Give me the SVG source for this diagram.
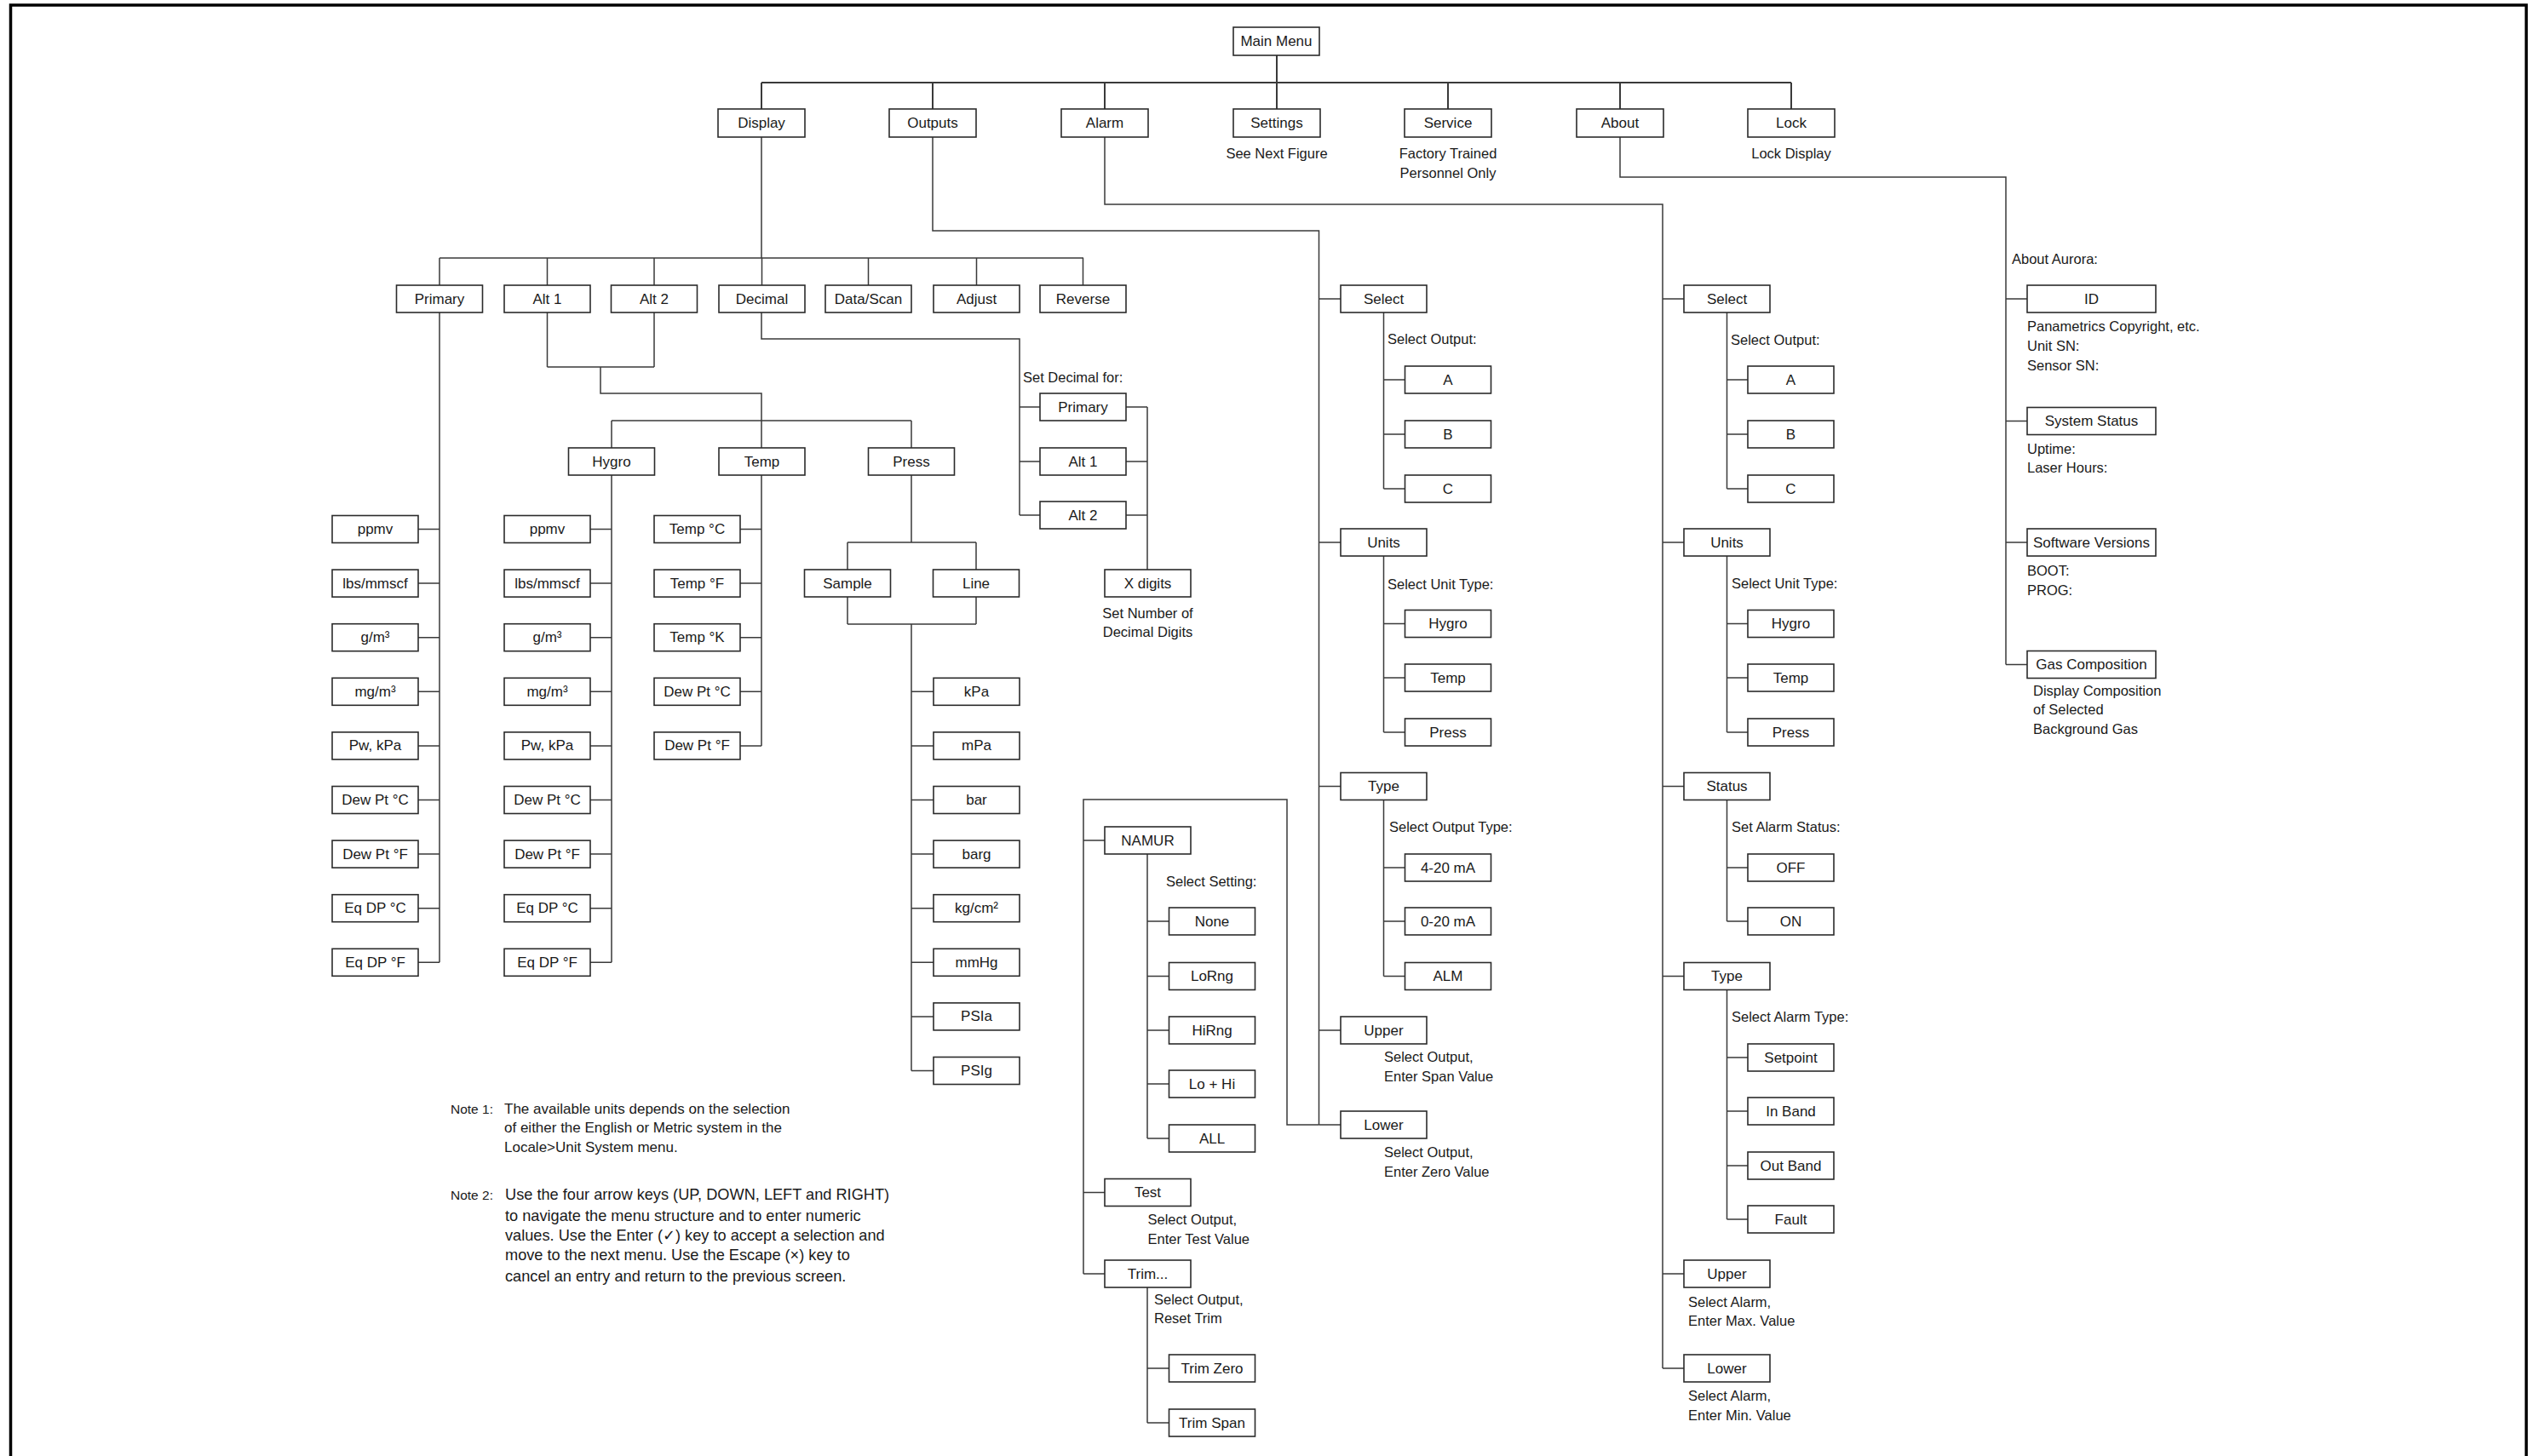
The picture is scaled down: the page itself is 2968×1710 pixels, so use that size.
<svg xmlns="http://www.w3.org/2000/svg" width="2968" height="1710" viewBox="0 0 2968 1710">
<style>
.n rect{fill:#fff;stroke:#2b2b2b;stroke-width:1.6}
text{font-family:"Liberation Sans",Arial,sans-serif;font-size:17px;fill:#1a1a1a}
.n text{text-anchor:middle;dominant-baseline:central}
.cap{font-size:16.5px;dominant-baseline:central}
.mid{text-anchor:middle}
.note{font-size:17px;dominant-baseline:central}
.notel{font-size:15.5px;dominant-baseline:central}
.note2{font-size:18.2px;dominant-baseline:central}
#connectors path{fill:none;stroke:#3a3a3a;stroke-width:1.5}
#frame{fill:none;stroke:#000;stroke-width:3.5}
</style>
<rect width="2968" height="1710" fill="#fff"/>
<path id="frame" d="M12.5,1710V6H2966V1710"/>

<g id="connectors">
<path d="M1499,65V97M894,97H2103M894,97V128M1095,97V128M1297,97V128M1499,97V128M1700,97V128M1902,97V128M2103,97V128" style="stroke-width:2"/>
<path d="M894,161V303M516,303H1272M516,303V335M642.5,303V335M768,303V335M894.5,303V335M1019.5,303V335M1146.5,303V335M1271.5,303V335"/>
<path d="M642.5,367V431M768,367V431M642.5,431H768M705,431V462H894V526M718,494H1070M718,494V526M1070,494V526"/>
<path d="M516,367V1130.3M491,621.5H516M491,685.1H516M491,748.7H516M491,812.3H516M491,875.9H516M491,939.5H516M491,1003.1H516M491,1066.7H516M491,1130.3H516"/>
<path d="M718,558V1130.3M693,621.5H718M693,685.1H718M693,748.7H718M693,812.3H718M693,875.9H718M693,939.5H718M693,1003.1H718M693,1066.7H718M693,1130.3H718"/>
<path d="M894,558V875.9M869,621.5H894M869,685.1H894M869,748.7H894M869,812.3H894M869,875.9H894"/>
<path d="M1070,558V637M995,637H1146M995,637V669M1146,637V669M995,701V733M1146,701V733M995,733H1146M1070,733V1257.5M1070,812.3H1096M1070,875.9H1096M1070,939.5H1096M1070,1003.1H1096M1070,1066.7H1096M1070,1130.3H1096M1070,1193.9H1096M1070,1257.5H1096"/>
<path d="M894,367V398H1197V605M1197,478H1221M1197,542H1221M1197,605H1221M1322,478H1347M1322,542H1347M1322,605H1347M1347,478V669"/>
<path d="M1095,161V271H1548.5V1321M1548.5,351H1574M1548.5,637H1574M1548.5,923.5H1574M1548.5,1210H1574M1548.5,1321H1574"/>
<path d="M1624.5,367V574M1624.5,446H1649.5M1624.5,510H1649.5M1624.5,574H1649.5"/>
<path d="M1624.5,653V860M1624.5,732.5H1649.5M1624.5,796H1649.5M1624.5,860H1649.5"/>
<path d="M1624.5,939V1146.5M1624.5,1019H1649.5M1624.5,1082H1649.5M1624.5,1146.5H1649.5"/>
<path d="M1548.5,1321H1511V939H1272V1496M1272,987H1297M1272,1400.5H1297M1272,1496H1297"/>
<path d="M1347,1003V1337M1347,1082H1372.5M1347,1146.5H1372.5M1347,1210H1372.5M1347,1273H1372.5M1347,1337H1372.5"/>
<path d="M1347,1512V1671M1347,1607H1372.5M1347,1671H1372.5"/>
<path d="M1297,161V240H1952V1607M1952,351H1977M1952,637H1977M1952,923.5H1977M1952,1146.5H1977M1952,1496H1977M1952,1607H1977"/>
<path d="M2027.5,367V574M2027.5,446H2052M2027.5,510H2052M2027.5,574H2052"/>
<path d="M2027.5,653V860M2027.5,732.5H2052M2027.5,796H2052M2027.5,860H2052"/>
<path d="M2027.5,939V1082M2027.5,1019H2052M2027.5,1082H2052"/>
<path d="M2027.5,1162V1432M2027.5,1242H2052M2027.5,1305H2052M2027.5,1369H2052M2027.5,1432H2052"/>
<path d="M1902,161V208H2355V780.5M2355,351H2380M2355,494.5H2380M2355,637H2380M2355,780.5H2380"/>
</g>

<g id="main-menu" class="n"><rect x="1448" y="32" width="101" height="33"/><text x="1498.5" y="48.5">Main Menu</text></g>
<g id="display" class="n"><rect x="843" y="128" width="102" height="33"/><text x="894" y="144.5">Display</text></g>
<g id="outputs" class="n"><rect x="1044" y="128" width="102" height="33"/><text x="1095" y="144.5">Outputs</text></g>
<g id="alarm" class="n"><rect x="1246" y="128" width="102" height="33"/><text x="1297" y="144.5">Alarm</text></g>
<g id="settings" class="n"><rect x="1448" y="128" width="102" height="33"/><text x="1499" y="144.5">Settings</text></g>
<g id="service" class="n"><rect x="1649" y="128" width="102" height="33"/><text x="1700" y="144.5">Service</text></g>
<g id="about" class="n"><rect x="1851" y="128" width="102" height="33"/><text x="1902" y="144.5">About</text></g>
<g id="lock" class="n"><rect x="2052" y="128" width="102" height="33"/><text x="2103" y="144.5">Lock</text></g>
<g id="top-captions">
<text class="cap mid" x="1499" y="180">See Next Figure</text>
<text class="cap mid" x="1700" y="180">Factory Trained</text>
<text class="cap mid" x="1700" y="203">Personnel Only</text>
<text class="cap mid" x="2103" y="180">Lock Display</text>
</g>

<g id="d-primary" class="n"><rect x="465.5" y="335" width="101" height="32"/><text x="516" y="351">Primary</text></g>
<g id="d-alt1" class="n"><rect x="592" y="335" width="101" height="32"/><text x="642.5" y="351">Alt 1</text></g>
<g id="d-alt2" class="n"><rect x="717.5" y="335" width="101" height="32"/><text x="768" y="351">Alt 2</text></g>
<g id="d-decimal" class="n"><rect x="844" y="335" width="101" height="32"/><text x="894.5" y="351">Decimal</text></g>
<g id="d-datascan" class="n"><rect x="969" y="335" width="101" height="32"/><text x="1019.5" y="351">Data/Scan</text></g>
<g id="d-adjust" class="n"><rect x="1096" y="335" width="101" height="32"/><text x="1146.5" y="351">Adjust</text></g>
<g id="d-reverse" class="n"><rect x="1221" y="335" width="101" height="32"/><text x="1271.5" y="351">Reverse</text></g>

<g id="a-hygro" class="n"><rect x="667.5" y="526" width="101" height="32"/><text x="718" y="542">Hygro</text></g>
<g id="a-temp" class="n"><rect x="844" y="526" width="101" height="32"/><text x="894.5" y="542">Temp</text></g>
<g id="a-press" class="n"><rect x="1019.5" y="526" width="101" height="32"/><text x="1070" y="542">Press</text></g>
<g id="p-sample" class="n"><rect x="944.5" y="669" width="101" height="32"/><text x="995" y="685">Sample</text></g>
<g id="p-line" class="n"><rect x="1095.5" y="669" width="101" height="32"/><text x="1146" y="685">Line</text></g>

<g id="pr-ppmv" class="n"><rect x="390" y="605.5" width="101" height="32"/><text x="440.5" y="621.5">ppmv</text></g>
<g id="pr-lbs" class="n"><rect x="390" y="669.1" width="101" height="32"/><text x="440.5" y="685.1">lbs/mmscf</text></g>
<g id="pr-gm3" class="n"><rect x="390" y="732.7" width="101" height="32"/><text x="440.5" y="748.7">g/m³</text></g>
<g id="pr-mgm3" class="n"><rect x="390" y="796.3" width="101" height="32"/><text x="440.5" y="812.3">mg/m³</text></g>
<g id="pr-pw" class="n"><rect x="390" y="859.9" width="101" height="32"/><text x="440.5" y="875.9">Pw, kPa</text></g>
<g id="pr-dpc" class="n"><rect x="390" y="923.5" width="101" height="32"/><text x="440.5" y="939.5">Dew Pt °C</text></g>
<g id="pr-dpf" class="n"><rect x="390" y="987.1" width="101" height="32"/><text x="440.5" y="1003.1">Dew Pt °F</text></g>
<g id="pr-eqc" class="n"><rect x="390" y="1050.7" width="101" height="32"/><text x="440.5" y="1066.7">Eq DP °C</text></g>
<g id="pr-eqf" class="n"><rect x="390" y="1114.3" width="101" height="32"/><text x="440.5" y="1130.3">Eq DP °F</text></g>

<g id="hy-ppmv" class="n"><rect x="592" y="605.5" width="101" height="32"/><text x="642.5" y="621.5">ppmv</text></g>
<g id="hy-lbs" class="n"><rect x="592" y="669.1" width="101" height="32"/><text x="642.5" y="685.1">lbs/mmscf</text></g>
<g id="hy-gm3" class="n"><rect x="592" y="732.7" width="101" height="32"/><text x="642.5" y="748.7">g/m³</text></g>
<g id="hy-mgm3" class="n"><rect x="592" y="796.3" width="101" height="32"/><text x="642.5" y="812.3">mg/m³</text></g>
<g id="hy-pw" class="n"><rect x="592" y="859.9" width="101" height="32"/><text x="642.5" y="875.9">Pw, kPa</text></g>
<g id="hy-dpc" class="n"><rect x="592" y="923.5" width="101" height="32"/><text x="642.5" y="939.5">Dew Pt °C</text></g>
<g id="hy-dpf" class="n"><rect x="592" y="987.1" width="101" height="32"/><text x="642.5" y="1003.1">Dew Pt °F</text></g>
<g id="hy-eqc" class="n"><rect x="592" y="1050.7" width="101" height="32"/><text x="642.5" y="1066.7">Eq DP °C</text></g>
<g id="hy-eqf" class="n"><rect x="592" y="1114.3" width="101" height="32"/><text x="642.5" y="1130.3">Eq DP °F</text></g>

<g id="te-c" class="n"><rect x="768" y="605.5" width="101" height="32"/><text x="818.5" y="621.5">Temp °C</text></g>
<g id="te-f" class="n"><rect x="768" y="669.1" width="101" height="32"/><text x="818.5" y="685.1">Temp °F</text></g>
<g id="te-k" class="n"><rect x="768" y="732.7" width="101" height="32"/><text x="818.5" y="748.7">Temp °K</text></g>
<g id="te-dpc" class="n"><rect x="768" y="796.3" width="101" height="32"/><text x="818.5" y="812.3">Dew Pt °C</text></g>
<g id="te-dpf" class="n"><rect x="768" y="859.9" width="101" height="32"/><text x="818.5" y="875.9">Dew Pt °F</text></g>

<g id="ps-kpa" class="n"><rect x="1096" y="796.3" width="101" height="32"/><text x="1146.5" y="812.3">kPa</text></g>
<g id="ps-mpa" class="n"><rect x="1096" y="859.9" width="101" height="32"/><text x="1146.5" y="875.9">mPa</text></g>
<g id="ps-bar" class="n"><rect x="1096" y="923.5" width="101" height="32"/><text x="1146.5" y="939.5">bar</text></g>
<g id="ps-barg" class="n"><rect x="1096" y="987.1" width="101" height="32"/><text x="1146.5" y="1003.1">barg</text></g>
<g id="ps-kgcm2" class="n"><rect x="1096" y="1050.7" width="101" height="32"/><text x="1146.5" y="1066.7">kg/cm²</text></g>
<g id="ps-mmhg" class="n"><rect x="1096" y="1114.3" width="101" height="32"/><text x="1146.5" y="1130.3">mmHg</text></g>
<g id="ps-psia" class="n"><rect x="1096" y="1177.9" width="101" height="32"/><text x="1146.5" y="1193.9">PSIa</text></g>
<g id="ps-psig" class="n"><rect x="1096" y="1241.5" width="101" height="32"/><text x="1146.5" y="1257.5">PSIg</text></g>

<text class="cap" x="1201" y="443">Set Decimal for:</text>
<g id="dec-primary" class="n"><rect x="1221" y="462" width="101" height="32"/><text x="1271.5" y="478">Primary</text></g>
<g id="dec-alt1" class="n"><rect x="1221" y="526" width="101" height="32"/><text x="1271.5" y="542">Alt 1</text></g>
<g id="dec-alt2" class="n"><rect x="1221" y="589" width="101" height="32"/><text x="1271.5" y="605">Alt 2</text></g>
<g id="dec-xdigits" class="n"><rect x="1297" y="669" width="101" height="32"/><text x="1347.5" y="685">X digits</text></g>
<text class="cap mid" x="1347.5" y="720">Set Number of</text>
<text class="cap mid" x="1347.5" y="742">Decimal Digits</text>

<g id="o-select" class="n"><rect x="1574" y="335" width="101" height="32"/><text x="1624.5" y="351">Select</text></g>
<text class="cap" x="1629" y="398">Select Output:</text>
<g id="o-a" class="n"><rect x="1649.5" y="430" width="101" height="32"/><text x="1700" y="446">A</text></g>
<g id="o-b" class="n"><rect x="1649.5" y="494" width="101" height="32"/><text x="1700" y="510">B</text></g>
<g id="o-c" class="n"><rect x="1649.5" y="558" width="101" height="32"/><text x="1700" y="574">C</text></g>
<g id="o-units" class="n"><rect x="1574" y="621" width="101" height="32"/><text x="1624.5" y="637">Units</text></g>
<text class="cap" x="1629" y="686">Select Unit Type:</text>
<g id="o-hygro" class="n"><rect x="1649.5" y="716.5" width="101" height="32"/><text x="1700" y="732.5">Hygro</text></g>
<g id="o-temp" class="n"><rect x="1649.5" y="780" width="101" height="32"/><text x="1700" y="796">Temp</text></g>
<g id="o-press" class="n"><rect x="1649.5" y="844" width="101" height="32"/><text x="1700" y="860">Press</text></g>
<g id="o-type" class="n"><rect x="1574" y="907.5" width="101" height="32"/><text x="1624.5" y="923.5">Type</text></g>
<text class="cap" x="1631" y="971">Select Output Type:</text>
<g id="o-420" class="n"><rect x="1649.5" y="1003" width="101" height="32"/><text x="1700" y="1019">4-20 mA</text></g>
<g id="o-020" class="n"><rect x="1649.5" y="1066" width="101" height="32"/><text x="1700" y="1082">0-20 mA</text></g>
<g id="o-alm" class="n"><rect x="1649.5" y="1130.5" width="101" height="32"/><text x="1700" y="1146.5">ALM</text></g>
<g id="o-upper" class="n"><rect x="1574" y="1194" width="101" height="32"/><text x="1624.5" y="1210">Upper</text></g>
<text class="cap" x="1625" y="1241">Select Output,</text>
<text class="cap" x="1625" y="1264">Enter Span Value</text>
<g id="o-lower" class="n"><rect x="1574" y="1305" width="101" height="32"/><text x="1624.5" y="1321">Lower</text></g>
<text class="cap" x="1625" y="1353">Select Output,</text>
<text class="cap" x="1625" y="1376">Enter Zero Value</text>

<g id="o-namur" class="n"><rect x="1297" y="971" width="101" height="32"/><text x="1347.5" y="987">NAMUR</text></g>
<text class="cap" x="1369" y="1035">Select Setting:</text>
<g id="n-none" class="n"><rect x="1372.5" y="1066" width="101" height="32"/><text x="1423" y="1082">None</text></g>
<g id="n-lorng" class="n"><rect x="1372.5" y="1130.5" width="101" height="32"/><text x="1423" y="1146.5">LoRng</text></g>
<g id="n-hirng" class="n"><rect x="1372.5" y="1194" width="101" height="32"/><text x="1423" y="1210">HiRng</text></g>
<g id="n-lohi" class="n"><rect x="1372.5" y="1257" width="101" height="32"/><text x="1423" y="1273">Lo + Hi</text></g>
<g id="n-all" class="n"><rect x="1372.5" y="1321" width="101" height="32"/><text x="1423" y="1337">ALL</text></g>
<g id="o-test" class="n"><rect x="1297" y="1384.5" width="101" height="32"/><text x="1347.5" y="1400.5">Test</text></g>
<text class="cap" x="1347.5" y="1432">Select Output,</text>
<text class="cap" x="1347.5" y="1455">Enter Test Value</text>
<g id="o-trim" class="n"><rect x="1297" y="1480" width="101" height="32"/><text x="1347.5" y="1496">Trim...</text></g>
<text class="cap" x="1355" y="1525.5">Select Output,</text>
<text class="cap" x="1355" y="1548">Reset Trim</text>
<g id="t-zero" class="n"><rect x="1372.5" y="1591" width="101" height="32"/><text x="1423" y="1607">Trim Zero</text></g>
<g id="t-span" class="n"><rect x="1372.5" y="1655" width="101" height="32"/><text x="1423" y="1671">Trim Span</text></g>

<g id="al-select" class="n"><rect x="1977" y="335" width="101" height="32"/><text x="2027.5" y="351">Select</text></g>
<text class="cap" x="2032" y="399">Select Output:</text>
<g id="al-a" class="n"><rect x="2052" y="430" width="101" height="32"/><text x="2102.5" y="446">A</text></g>
<g id="al-b" class="n"><rect x="2052" y="494" width="101" height="32"/><text x="2102.5" y="510">B</text></g>
<g id="al-c" class="n"><rect x="2052" y="558" width="101" height="32"/><text x="2102.5" y="574">C</text></g>
<g id="al-units" class="n"><rect x="1977" y="621" width="101" height="32"/><text x="2027.5" y="637">Units</text></g>
<text class="cap" x="2033" y="685">Select Unit Type:</text>
<g id="al-hygro" class="n"><rect x="2052" y="716.5" width="101" height="32"/><text x="2102.5" y="732.5">Hygro</text></g>
<g id="al-temp" class="n"><rect x="2052" y="780" width="101" height="32"/><text x="2102.5" y="796">Temp</text></g>
<g id="al-press" class="n"><rect x="2052" y="844" width="101" height="32"/><text x="2102.5" y="860">Press</text></g>
<g id="al-status" class="n"><rect x="1977" y="907.5" width="101" height="32"/><text x="2027.5" y="923.5">Status</text></g>
<text class="cap" x="2033" y="971">Set Alarm Status:</text>
<g id="al-off" class="n"><rect x="2052" y="1003" width="101" height="32"/><text x="2102.5" y="1019">OFF</text></g>
<g id="al-on" class="n"><rect x="2052" y="1066" width="101" height="32"/><text x="2102.5" y="1082">ON</text></g>
<g id="al-type" class="n"><rect x="1977" y="1130.5" width="101" height="32"/><text x="2027.5" y="1146.5">Type</text></g>
<text class="cap" x="2033" y="1194">Select Alarm Type:</text>
<g id="al-setpoint" class="n"><rect x="2052" y="1226" width="101" height="32"/><text x="2102.5" y="1242">Setpoint</text></g>
<g id="al-inband" class="n"><rect x="2052" y="1289" width="101" height="32"/><text x="2102.5" y="1305">In Band</text></g>
<g id="al-outband" class="n"><rect x="2052" y="1353" width="101" height="32"/><text x="2102.5" y="1369">Out Band</text></g>
<g id="al-fault" class="n"><rect x="2052" y="1416" width="101" height="32"/><text x="2102.5" y="1432">Fault</text></g>
<g id="al-upper" class="n"><rect x="1977" y="1480" width="101" height="32"/><text x="2027.5" y="1496">Upper</text></g>
<text class="cap" x="1982" y="1528.5">Select Alarm,</text>
<text class="cap" x="1982" y="1550.5">Enter Max. Value</text>
<g id="al-lower" class="n"><rect x="1977" y="1591" width="101" height="32"/><text x="2027.5" y="1607">Lower</text></g>
<text class="cap" x="1982" y="1639">Select Alarm,</text>
<text class="cap" x="1982" y="1662">Enter Min. Value</text>

<text class="cap" x="2362" y="304">About Aurora:</text>
<g id="ab-id" class="n"><rect x="2380" y="335" width="151" height="32"/><text x="2455.5" y="351">ID</text></g>
<text class="cap" x="2380" y="383">Panametrics Copyright, etc.</text>
<text class="cap" x="2380" y="405.5">Unit SN:</text>
<text class="cap" x="2380" y="428.5">Sensor SN:</text>
<g id="ab-status" class="n"><rect x="2380" y="478.5" width="151" height="32"/><text x="2455.5" y="494.5">System Status</text></g>
<text class="cap" x="2380" y="527">Uptime:</text>
<text class="cap" x="2380" y="549">Laser Hours:</text>
<g id="ab-software" class="n"><rect x="2380" y="621" width="151" height="32"/><text x="2455.5" y="637">Software Versions</text></g>
<text class="cap" x="2380" y="670">BOOT:</text>
<text class="cap" x="2380" y="692.5">PROG:</text>
<g id="ab-gas" class="n"><rect x="2380" y="764.5" width="151" height="32"/><text x="2455.5" y="780.5">Gas Composition</text></g>
<text class="cap" x="2387" y="811">Display Composition</text>
<text class="cap" x="2387" y="833">of Selected</text>
<text class="cap" x="2387" y="856">Background Gas</text>

<g id="notes">
<text class="notel" x="529" y="1302">Note 1:</text>
<text class="note" x="592" y="1302">The available units depends on the selection</text>
<text class="note" x="592" y="1324">of either the English or Metric system in the</text>
<text class="note" x="592" y="1347">Locale&gt;Unit System menu.</text>
<text class="notel" x="529" y="1403">Note 2:</text>
<text class="note2" x="593" y="1403">Use the four arrow keys (UP, DOWN, LEFT and RIGHT)</text>
<text class="note2" x="593" y="1428">to navigate the menu structure and to enter numeric</text>
<text class="note2" x="593" y="1451">values. Use the Enter (✓) key to accept a selection and</text>
<text class="note2" x="593" y="1474">move to the next menu. Use the Escape (×) key to</text>
<text class="note2" x="593" y="1499">cancel an entry and return to the previous screen.</text>
</g>
</svg>
